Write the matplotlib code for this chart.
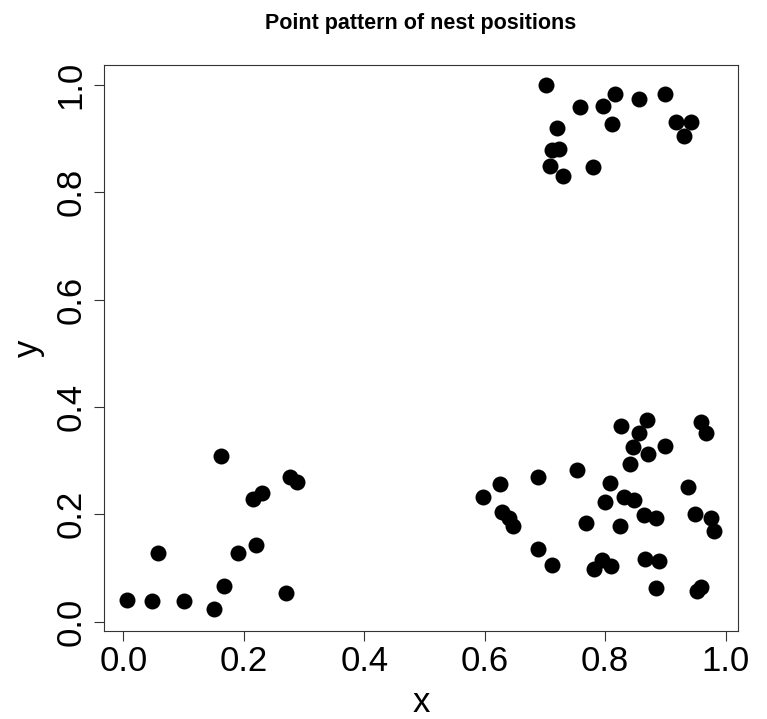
import matplotlib
matplotlib.use("Agg")
import matplotlib.pyplot as plt

# nest positions
x = [0.007, 0.048, 0.100, 0.150, 0.168, 0.057, 0.191, 0.220, 0.215, 0.230,
     0.162, 0.277, 0.289, 0.270,
     0.827, 0.869, 0.856, 0.847, 0.871, 0.900, 0.842, 0.959, 0.967, 0.754,
     0.689, 0.625, 0.598, 0.808, 0.832, 0.848, 0.800, 0.938, 0.628, 0.640,
     0.647, 0.864, 0.885, 0.949, 0.975, 0.981, 0.768, 0.825, 0.688, 0.711,
     0.781, 0.794, 0.809, 0.866, 0.890, 0.885, 0.953, 0.959,
     0.702, 0.759, 0.796, 0.816, 0.857, 0.900, 0.811, 0.720, 0.917, 0.943,
     0.931, 0.712, 0.724, 0.709, 0.780, 0.730]
y = [0.040, 0.039, 0.039, 0.024, 0.067, 0.128, 0.128, 0.143, 0.228, 0.239,
     0.309, 0.269, 0.261, 0.054,
     0.365, 0.376, 0.351, 0.326, 0.312, 0.327, 0.294, 0.371, 0.351, 0.283,
     0.269, 0.257, 0.233, 0.258, 0.233, 0.227, 0.222, 0.250, 0.204, 0.194,
     0.178, 0.199, 0.193, 0.201, 0.193, 0.169, 0.184, 0.178, 0.135, 0.105,
     0.099, 0.114, 0.104, 0.116, 0.113, 0.062, 0.058, 0.064,
     1.000, 0.959, 0.961, 0.983, 0.974, 0.983, 0.926, 0.920, 0.931, 0.931,
     0.905, 0.878, 0.880, 0.849, 0.847, 0.830]
ticks = [0.0, 0.2, 0.4, 0.6, 0.8, 1.0]

plt.rcParams['font.family'] = ['Liberation Sans', 'DejaVu Sans']

fig = plt.figure(figsize=(7.67, 7.19), dpi=100)
ax = fig.add_axes([0.1356, 0.1224, 0.8266, 0.7872])

ax.plot(x, y, 'o', color='black', markersize=11.5, markeredgewidth=0)

ax.set_xlim(-0.032, 1.0206)
ax.set_ylim(-0.0173, 1.0367)
ax.set_xticks(ticks)
ax.set_yticks(ticks)
ax.set_xticklabels(['%.1f' % t for t in ticks])
ax.set_yticklabels(['%.1f' % t for t in ticks], rotation=90, va='center')

for s in ax.spines.values():
    s.set_linewidth(0.8)
    s.set_color('#333333')
ax.tick_params(axis='both', labelsize=25, length=7, width=0.8, color='#333333')
ax.tick_params(axis='x', pad=3)
ax.tick_params(axis='y', pad=5)

ax.set_xlabel('x', fontsize=25, labelpad=5.5)
ax.set_ylabel('y', fontsize=25, labelpad=7)
ax.set_title('Point pattern of nest positions', fontsize=15.5,
             fontweight='bold', pad=26)

fig.savefig('out.png', dpi=100)
